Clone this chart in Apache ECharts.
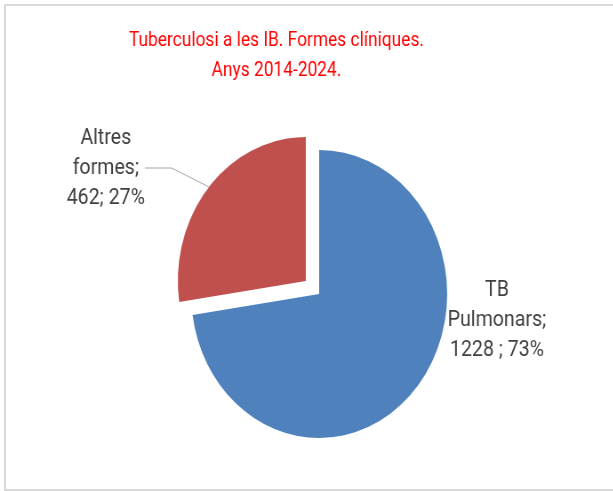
<!DOCTYPE html>
<html>
<head>
<meta charset="utf-8">
<script src="https://cdn.jsdelivr.net/npm/echarts@6/dist/echarts.min.js"></script>
<style>
html, body { margin: 0; padding: 0; background: #fff; overflow: hidden; }
#frame { position: absolute; left: 4px; top: 4px; width: 700px; height: 487px; border: 2px solid #d9d9d9; box-sizing: border-box; }
#main { position: absolute; left: 0; top: 0; width: 690px; height: 491px; transform: scaleX(0.889); transform-origin: 0 0; }
</style>
</head>
<body>
<div id="frame"></div>
<div id="main"></div>
<script>
var names = ['TB Pulmonars', 'Altres formes'];
var values = [1228, 462];
var seps = [' ; ', '; '];
var colors = ['#4F81BD', '#C0504D'];

var chart = echarts.init(document.getElementById('main'));

// one series per slice so the exploded slice can sit on its own centre
function sliceData(visible) {
    return names.map(function (n, i) {
        var on = i === visible;
        return {
            name: n,
            value: values[i],
            itemStyle: {color: on ? colors[i] : 'transparent'},
            label: {show: on},
            labelLine: {show: on && i === 1}
        };
    });
}

var labelStyle = {
    position: 'outside',
    fontFamily: 'Roboto',
    fontSize: 22,
    lineHeight: 30,
    color: '#404040',
    formatter: function (p) {
        return p.name.replace(' ', '\n') + ';\n' + p.value + seps[p.dataIndex] + Math.round(p.percent) + '%';
    }
};

option = {
    animation: false,
    title: {
        text: 'Tuberculosi a les IB. Formes clíniques.\nAnys 2014-2024.',
        left: 306,
        top: 21,
        textAlign: 'center',
        textStyle: {
            color: '#FF0000',
            fontFamily: 'Roboto',
            fontWeight: 'normal',
            fontSize: 19.5,
            lineHeight: 30
        }
    },
    series: [
        {
            type: 'pie',
            silent: true,
            center: [359, 294],
            radius: 144,
            startAngle: 90,
            clockwise: true,
            data: sliceData(0),
            label: labelStyle,
            labelLayout: function () {
                return {x: 559, y: 320, align: 'center', verticalAlign: 'middle'};
            }
        },
        {
            type: 'pie',
            silent: true,
            center: [344, 281],
            radius: 144,
            startAngle: 90,
            clockwise: true,
            data: sliceData(1),
            label: labelStyle,
            labelLine: {
                lineStyle: {color: '#a6a6a6', width: 1}
            },
            labelLayout: function () {
                return {x: 119, y: 168, align: 'center', verticalAlign: 'middle'};
            }
        }
    ]
};
chart.setOption(option);
</script>
</body>
</html>
